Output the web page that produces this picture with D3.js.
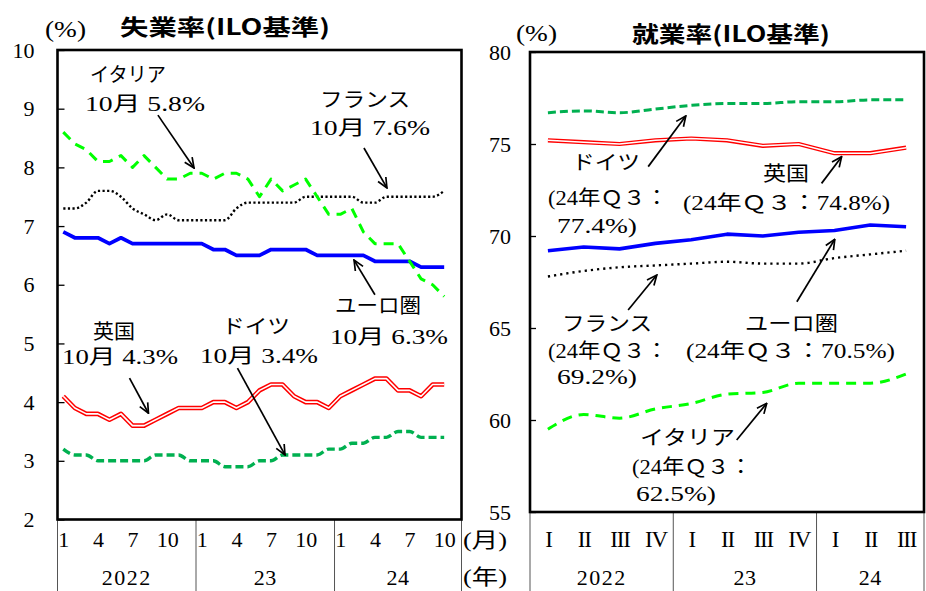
<!DOCTYPE html>
<html>
<head>
<meta charset="utf-8">
<script src="https://cdn.jsdelivr.net/npm/d3@7"></script>
<style>
  body { margin: 0; background: #fff; }
  svg text { fill: #000; }
</style>
</head>
<body>
<svg id="chart" width="926" height="591" font-family="Liberation Serif, Noto Sans CJK JP, serif"></svg>
<script>
// ---------- Unemployment rate (ILO), monthly Jan 2022 – Oct 2024 ----------
const monthTickValues = [0, 3, 6, 9, 12, 15, 18, 21, 24, 27, 30, 33];
const unempTicks = [2, 3, 4, 5, 6, 7, 8, 9, 10];
const euroU    = [6.9,6.8,6.8,6.8,6.7,6.8,6.7,6.7,6.7,6.7,6.7,6.7, 6.7,6.6,6.6,6.5,6.5,6.5,6.6,6.6,6.6,6.6,6.5,6.5, 6.5,6.5,6.5,6.4,6.4,6.4,6.4,6.3,6.3,6.3];
const franceU  = [7.3,7.3,7.4,7.6,7.6,7.5,7.3,7.2,7.1,7.2,7.1,7.1, 7.1,7.1,7.1,7.3,7.4,7.4,7.4,7.4,7.4,7.5,7.5,7.5, 7.5,7.5,7.4,7.4,7.5,7.5,7.5,7.5,7.5,7.6];
const italyU   = [8.6,8.4,8.3,8.1,8.1,8.2,8.0,8.2,8.0,7.8,7.8,7.9, 7.9,7.8,7.9,7.9,7.8,7.5,7.8,7.6,7.7,7.8,7.5,7.2, 7.2,7.3,6.9,6.7,6.7,6.7,6.4,6.1,6.0,5.8];
const ukU      = [4.1,3.9,3.8,3.8,3.7,3.8,3.6,3.6,3.7,3.8,3.9,3.9, 3.9,4.0,4.0,3.9,4.0,4.2,4.3,4.3,4.1,4.0,4.0,3.9, 4.1,4.2,4.3,4.4,4.4,4.2,4.2,4.1,4.3,4.3];
const germanyU = [3.2,3.1,3.1,3.0,3.0,3.0,3.0,3.0,3.1,3.1,3.1,3.0, 3.0,3.0,2.9,2.9,2.9,3.0,3.0,3.1,3.1,3.1,3.1,3.2, 3.2,3.3,3.3,3.4,3.4,3.5,3.5,3.4,3.4,3.4];

// ---------- Employment rate (ILO), quarterly 2022Q1 – 2024Q3 ----------
const quarterLabels = ["I", "II", "III", "IV"];
const empTicks = [55, 60, 65, 70, 75, 80];
const germanyE = [76.7,76.8,76.7,76.9,77.1,77.2,77.2,77.3,77.3,77.4,77.4];
const ukE      = [75.2,75.1,75.0,75.2,75.3,75.2,74.9,75.0,74.5,74.5,74.8];
const euroE    = [69.2,69.4,69.3,69.6,69.8,70.1,70.0,70.2,70.3,70.6,70.5];
const franceE  = [67.8,68.1,68.3,68.4,68.5,68.6,68.5,68.5,68.8,69.0,69.2];
const italyE   = [59.5,60.3,60.1,60.6,60.9,61.4,61.5,62.0,62.0,62.0,62.5];

const yearLabels = ["2022", "23", "24"];

const SERIF = "Liberation Serif, Noto Sans CJK JP, serif";
const GOTHIC = "Noto Sans CJK JP, sans-serif";

const svg = d3.select("#chart");

// arrowhead
svg.append("defs").append("marker")
  .attr("id", "arr").attr("viewBox", "0 0 12 12")
  .attr("refX", 11).attr("refY", 6)
  .attr("markerWidth", 12).attr("markerHeight", 12)
  .attr("markerUnits", "userSpaceOnUse").attr("orient", "auto")
  .append("path").attr("d", "M1,1.5 L11,6 L1,10.5")
  .attr("fill", "none").attr("stroke", "#000").attr("stroke-width", 1.7);

const styles = {
  euro:    { stroke: "#0000ff", width: 3.8 },
  france:  { stroke: "#000", width: 2.4, dash: "2.2 2.4" },
  italy:   { stroke: "#00ff00", width: 3, dash: "10 7" },
  germany: { stroke: "#00b050", width: 3.4, dash: "8 4" },
  uk:      { stroke: "#ff0000", width: 4.6, inner: 1.6 }
};

function drawSeries(g, x, y, values, st, curve) {
  const line = d3.line().x((d, i) => x(i)).y(d => y(d)).curve(curve || d3.curveLinear);
  g.append("path").datum(values).attr("d", line)
    .attr("fill", "none").attr("stroke", st.stroke).attr("stroke-width", st.width)
    .attr("stroke-dasharray", st.dash || null)
    .attr("stroke-linejoin", "round");
  if (st.inner) {
    g.append("path").datum(values).attr("d", line)
      .attr("fill", "none").attr("stroke", "#fff").attr("stroke-width", st.inner)
      .attr("stroke-linejoin", "round");
  }
}

function annotate(g, items) {
  items.forEach(a => {
    g.append("text").attr("x", a.x).attr("y", a.y)
      .attr("dominant-baseline", "central")
      .style("font-family", SERIF)
      .attr("font-size", a.fs || 20)
      .attr("textLength", a.w).attr("lengthAdjust", "spacingAndGlyphs")
      .text(a.t);
  });
}

function arrows(g, x, y, items) {
  items.forEach(a => {
    g.append("line")
      .attr("x1", x(a.from[0])).attr("y1", y(a.from[1]))
      .attr("x2", x(a.to[0])).attr("y2", y(a.to[1]))
      .attr("stroke", "#000").attr("stroke-width", 1.7)
      .attr("marker-end", "url(#arr)");
  });
}

function unitLabel(g, x, y) {
  g.append("text").attr("x", x).attr("y", y).attr("dominant-baseline", "central")
    .style("font-family", SERIF)
    .attr("font-size", 24).attr("textLength", 41).attr("lengthAdjust", "spacingAndGlyphs")
    .text("(%)");
}

function title(g, x, y, w, t) {
  g.append("text").attr("x", x).attr("y", y).attr("dominant-baseline", "central")
    .style("font-family", GOTHIC).style("font-weight", 700).attr("font-size", 22)
    .attr("textLength", w).attr("lengthAdjust", "spacingAndGlyphs").text(t);
}

// ================= Left panel: unemployment =================
{
  const box = { x0: 57.5, x1: 461.5, y0: 50, y1: 519.5 };
  const x = d3.scaleLinear().domain([-0.5, 34.5]).range([box.x0, box.x1]);
  const y = d3.scaleLinear().domain([2, 10]).range([box.y1, box.y0]);
  const g = svg.append("g");

  const ya = g.append("g").attr("transform", `translate(${box.x0},0)`)
    .call(d3.axisLeft(y).tickValues(unempTicks).tickSizeInner(-7).tickSizeOuter(0).tickPadding(23));
  ya.select(".domain").remove();
  ya.selectAll("line").attr("stroke", "#000").attr("stroke-width", 1.3);
  ya.selectAll("text").attr("font-size", 22).style("font-family", SERIF);

  const xa = g.append("g").attr("transform", `translate(0,${box.y1})`)
    .call(d3.axisBottom(x).tickValues(monthTickValues).tickFormat(i => (i % 12) + 1).tickSize(0).tickPadding(12));
  xa.select(".domain").remove();
  xa.selectAll("text").attr("font-size", 22).style("font-family", SERIF);

  // year separators and labels
  const bounds = [-0.5, 11.5, 23.5, 34.5];
  bounds.forEach(b => g.append("line").attr("x1", x(b)).attr("x2", x(b))
    .attr("y1", box.y1).attr("y2", 591).attr("stroke", "#555").attr("stroke-width", 1));
  yearLabels.forEach((t, k) => g.append("text")
    .attr("x", (x(bounds[k]) + x(bounds[k + 1])) / 2).attr("y", 585)
    .attr("text-anchor", "middle").attr("font-size", 22).style("font-family", SERIF)
    .attr("letter-spacing", t.length > 2 ? 1.5 : 0.5).text(t));
  g.append("text").attr("x", 463).attr("y", 547).attr("font-size", 21).style("font-family", SERIF)
    .attr("textLength", 44).attr("lengthAdjust", "spacingAndGlyphs").text("(月)");
  g.append("text").attr("x", 463).attr("y", 584).attr("font-size", 21).style("font-family", SERIF)
    .attr("textLength", 44).attr("lengthAdjust", "spacingAndGlyphs").text("(年)");

  unitLabel(g, 45, 29);
  title(g, 120, 25, 210, "失業率(ILO基準)");

  const plot = g.append("g");
  drawSeries(plot, x, y, euroU, styles.euro);
  drawSeries(plot, x, y, franceU, styles.france, d3.curveMonotoneX);
  drawSeries(plot, x, y, ukU, styles.uk);
  drawSeries(plot, x, y, germanyU, styles.germany, d3.curveMonotoneX);
  drawSeries(plot, x, y, italyU, styles.italy);

  g.append("rect").attr("x", box.x0).attr("y", box.y0)
    .attr("width", box.x1 - box.x0).attr("height", box.y1 - box.y0)
    .attr("fill", "none").attr("stroke", "#000").attr("stroke-width", 2.6);

  annotate(g, [
    { t: "イタリア", x: 90, y: 75, w: 76 },
    { t: "10月 5.8%", x: 85, y: 104, w: 120 },
    { t: "フランス", x: 320, y: 100, w: 90 },
    { t: "10月 7.6%", x: 310, y: 128, w: 120 },
    { t: "ユーロ圏", x: 335, y: 306, w: 86 },
    { t: "10月 6.3%", x: 330, y: 337, w: 118 },
    { t: "英国", x: 93, y: 332, w: 42 },
    { t: "10月 4.3%", x: 62, y: 357, w: 116 },
    { t: "ドイツ", x: 222, y: 327, w: 68 },
    { t: "10月 3.4%", x: 200, y: 356, w: 118 }
  ]);
  arrows(g, x, y, [
    { from: [8.2, 8.89], to: [11.33, 7.99] },
    { from: [26.05, 8.33], to: [28.04, 7.65] },
    { from: [27.0, 5.83], to: [25.19, 6.42] },
    { from: [5.74, 4.41], to: [7.38, 3.81] },
    { from: [15.09, 4.58], to: [19.21, 3.10] }
  ]);
}

// ================= Right panel: employment =================
{
  const box = { x0: 530, x1: 924, y0: 52, y1: 512 };
  const x = d3.scaleLinear().domain([-0.5, 10.5]).range([box.x0, box.x1]);
  const y = d3.scaleLinear().domain([55, 80]).range([box.y1, box.y0]);
  const g = svg.append("g");

  const ya = g.append("g").attr("transform", `translate(${box.x0},0)`)
    .call(d3.axisLeft(y).tickValues(empTicks).tickSizeInner(-6).tickSizeOuter(0).tickPadding(19));
  ya.select(".domain").remove();
  ya.selectAll("line").attr("stroke", "#000").attr("stroke-width", 1.3);
  ya.selectAll("text").attr("font-size", 22).style("font-family", SERIF);

  const xa = g.append("g").attr("transform", `translate(0,${box.y1})`)
    .call(d3.axisBottom(x).tickValues(d3.range(11)).tickFormat(i => quarterLabels[i % 4]).tickSize(0).tickPadding(19));
  xa.select(".domain").remove();
  xa.selectAll("text").attr("font-size", 23).style("font-family", SERIF)
    .attr("letter-spacing", -1.2);

  const bounds = [-0.5, 3.5, 7.5, 10.5];
  bounds.forEach(b => g.append("line").attr("x1", x(b)).attr("x2", x(b))
    .attr("y1", box.y1).attr("y2", 591).attr("stroke", "#555").attr("stroke-width", 1));
  yearLabels.forEach((t, k) => g.append("text")
    .attr("x", (x(bounds[k]) + x(bounds[k + 1])) / 2).attr("y", 585)
    .attr("text-anchor", "middle").attr("font-size", 22).style("font-family", SERIF)
    .attr("letter-spacing", t.length > 2 ? 1.5 : 0.5).text(t));

  unitLabel(g, 516, 33);
  title(g, 632, 32, 198, "就業率(ILO基準)");

  const plot = g.append("g");
  drawSeries(plot, x, y, germanyE, { stroke: "#00b050", width: 3, dash: "8 4" }, d3.curveMonotoneX);
  drawSeries(plot, x, y, ukE, { stroke: "#ff0000", width: 4.2, inner: 1.5 });
  drawSeries(plot, x, y, euroE, { stroke: "#0000ff", width: 3.6 });
  drawSeries(plot, x, y, franceE, { stroke: "#000", width: 2.4, dash: "2.2 4" }, d3.curveMonotoneX);
  drawSeries(plot, x, y, italyE, { stroke: "#00ff00", width: 3, dash: "10 7" }, d3.curveMonotoneX);

  g.append("rect").attr("x", box.x0).attr("y", box.y0)
    .attr("width", box.x1 - box.x0).attr("height", box.y1 - box.y0)
    .attr("fill", "none").attr("stroke", "#000").attr("stroke-width", 2.6);

  annotate(g, [
    { t: "ドイツ", x: 572, y: 163, w: 68 },
    { t: "(24年Ｑ３：", x: 548, y: 198, w: 120 },
    { t: "77.4%)", x: 557, y: 226, w: 80 },
    { t: "英国", x: 763, y: 174, w: 46 },
    { t: "(24年Ｑ３：74.8%)", x: 683, y: 203, w: 207 },
    { t: "フランス", x: 562, y: 324, w: 90 },
    { t: "(24年Ｑ３：", x: 548, y: 351, w: 120 },
    { t: "69.2%)", x: 557, y: 377, w: 80 },
    { t: "ユーロ圏", x: 745, y: 324, w: 93 },
    { t: "(24年Ｑ３：70.5%)", x: 686, y: 351, w: 209 },
    { t: "イタリア", x: 640, y: 438, w: 95 },
    { t: "(24年Ｑ３：", x: 632, y: 467, w: 120 },
    { t: "62.5%)", x: 636, y: 494, w: 80 }
  ]);
  arrows(g, x, y, [
    { from: [2.80, 73.77], to: [3.85, 76.52] },
    { from: [7.64, 72.86], to: [8.20, 74.31] },
    { from: [2.24, 65.98], to: [3.04, 67.88] },
    { from: [6.95, 66.43], to: [8.01, 69.82] },
    { from: [5.27, 58.91], to: [6.11, 60.91] }
  ]);
}
</script>
</body>
</html>
